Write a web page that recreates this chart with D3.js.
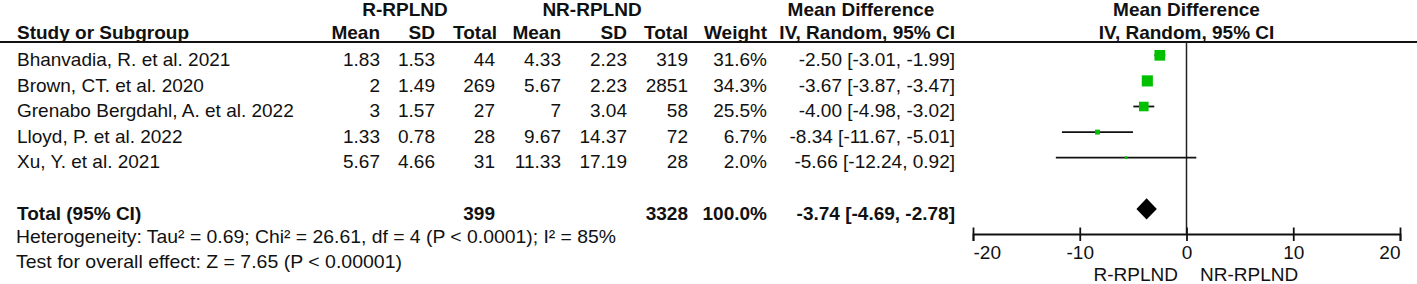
<!DOCTYPE html>
<html>
<head>
<meta charset="utf-8">
<script src="https://cdn.jsdelivr.net/npm/d3@7"></script>
<style>
  html, body { margin: 0; padding: 0; background: #fff; }
  svg { display: block; }
  text { font-family: "Liberation Sans", Arial, sans-serif; fill: #111; }
</style>
</head>
<body>
<svg id="chart" width="1417" height="284"></svg>
<script>
// ---- data ----
const studies = ["Bhanvadia, R. et al. 2021", "Brown, CT. et al. 2020", "Grenabo Bergdahl, A. et al. 2022", "Lloyd, P. et al. 2022", "Xu, Y. et al. 2021"];
const rMean = [1.83, 2, 3, 1.33, 5.67];
const rSD = [1.53, 1.49, 1.57, 0.78, 4.66];
const rTotal = [44, 269, 27, 28, 31];
const nrMean = [4.33, 5.67, 7, 9.67, 11.33];
const nrSD = [2.23, 2.23, 3.04, 14.37, 17.19];
const nrTotal = [319, 2851, 58, 72, 28];
const weights = [31.6, 34.3, 25.5, 6.7, 2.0];
const md = [-2.50, -3.67, -4.00, -8.34, -5.66];
const ciLow = [-3.01, -3.87, -4.98, -11.67, -12.24];
const ciHigh = [-1.99, -3.47, -3.02, -5.01, 0.92];
const totalLabel = "Total (95% CI)";
const totalR = 399, totalNR = 3328, totalWeight = 100.0;
const totalMD = -3.74, totalLow = -4.69, totalHigh = -2.78;
const footnotes = [
  "Heterogeneity: Tau² = 0.69; Chi² = 26.61, df = 4 (P < 0.0001); I² = 85%",
  "Test for overall effect: Z = 7.65 (P < 0.00001)"
];
const groupHeaders = ["R-RPLND", "NR-RPLND"];
const colHeaders = ["Study or Subgroup", "Mean", "SD", "Total", "Mean", "SD", "Total", "Weight", "IV, Random, 95% CI"];
const axisTicks = [-20, -10, 0, 10, 20];
const favourLabels = ["R-RPLND", "NR-RPLND"];

// ---- layout ----
const svg = d3.select("#chart");
const FS = 19;
const f2 = v => v.toFixed(2);
const ciText = (m, lo, hi) => `${f2(m)} [${f2(lo)}, ${f2(hi)}]`;

const rowY = d3.scaleLinear().domain([0, 1]).range([66, 91.6]); // baseline by row index
const x = d3.scaleLinear().domain([-20, 20]).range([973, 1400]);
const size = d3.scaleSqrt().domain([0, 33]).range([0, 10.9]);

// column right edges (text-anchor end) for numeric columns
const colRight = [380, 435, 495, 561, 627, 688, 767, 955];

function txt(g, xx, yy, s, anchor, bold) {
  return g.append("text").attr("x", xx).attr("y", yy)
    .attr("text-anchor", anchor || "start")
    .attr("font-size", FS)
    .attr("font-weight", bold ? "bold" : "normal")
    .text(s);
}

const g = svg.append("g");

// header row 1
const h1 = 16;
txt(g, 405, h1, groupHeaders[0], "middle", true);
txt(g, 592, h1, groupHeaders[1], "middle", true);
txt(g, 861, h1, "Mean Difference", "middle", true);
txt(g, x(0), h1, "Mean Difference", "middle", true);

// header row 2
txt(g, 17, 39, colHeaders[0], "start", true);
colHeaders.slice(1).forEach((h, i) => txt(g, colRight[i] + (i === 2 ? 2 : 0), 39, h, "end", true));
txt(g, x(0), 39, colHeaders[8], "middle", true);

// header line
g.append("line").attr("x1", 0).attr("x2", 1417).attr("y1", 42).attr("y2", 42)
  .attr("stroke", "#111").attr("stroke-width", 2);

// data rows
studies.forEach((s, i) => {
  const y = rowY(i);
  txt(g, 17, y, s, "start");
  const vals = [rMean[i], rSD[i], rTotal[i], nrMean[i], nrSD[i], nrTotal[i],
    weights[i].toFixed(1) + "%", ciText(md[i], ciLow[i], ciHigh[i])];
  vals.forEach((v, j) => txt(g, colRight[j], y, String(v), "end"));
});

// total row
const yT = rowY(6);
txt(g, 17, yT, totalLabel, "start", true);
txt(g, colRight[2], yT, String(totalR), "end", true);
txt(g, colRight[5], yT, String(totalNR), "end", true);
txt(g, colRight[6], yT, totalWeight.toFixed(1) + "%", "end", true);
txt(g, colRight[7], yT, ciText(totalMD, totalLow, totalHigh), "end", true);

// footnotes
g.append("text").attr("x", 16).attr("y", 243).attr("font-size", FS)
  .attr("textLength", 600).attr("lengthAdjust", "spacingAndGlyphs").text(footnotes[0]);
g.append("text").attr("x", 16).attr("y", 268).attr("font-size", FS)
  .attr("textLength", 386).attr("lengthAdjust", "spacingAndGlyphs").text(footnotes[1]);

// ---- forest plot ----
const axisY = 234;
const plot = svg.append("g");

// zero line
plot.append("line").attr("x1", x(0)).attr("x2", x(0)).attr("y1", 42).attr("y2", axisY)
  .attr("stroke", "#222").attr("stroke-width", 1.5);

// CI lines and squares
studies.forEach((s, i) => {
  const cy = rowY(i) - 10.7;
  plot.append("line").attr("x1", x(ciLow[i])).attr("x2", x(ciHigh[i]))
    .attr("y1", cy).attr("y2", cy).attr("stroke", "#111").attr("stroke-width", 1.8);
  const sz = size(weights[i]);
  plot.append("rect").attr("x", x(md[i]) - sz / 2).attr("y", cy - sz / 2)
    .attr("width", sz).attr("height", sz).attr("fill", "#00c000");
});

// diamond
const dy = yT - 10.7, dh = 10.7;
plot.append("path")
  .attr("d", `M${x(totalLow)},${dy} L${x(totalMD)},${dy - dh} L${x(totalHigh)},${dy} L${x(totalMD)},${dy + dh} Z`)
  .attr("fill", "#000");

// axis
const axis = d3.axisBottom(x).tickValues(axisTicks).tickSizeOuter(0).tickSize(7)
  .tickFormat(d => String(d));
const ax = plot.append("g").attr("transform", `translate(0,${axisY})`).call(axis);
ax.select(".domain").attr("stroke", "#111").attr("stroke-width", 1.8);
ax.selectAll(".tick line").attr("y1", -6.5).attr("y2", 7).attr("stroke", "#111").attr("stroke-width", 1.8);
ax.selectAll(".tick text")
  .attr("font-size", FS).attr("font-family", "'Liberation Sans', Arial, sans-serif")
  .attr("fill", "#111").attr("y", 25).attr("dy", 0)
  .attr("text-anchor", (d, i) => i === 0 ? "start" : (i === axisTicks.length - 1 ? "end" : "middle"));

// favour labels
txt(plot, x(0) - 8.5, 281, favourLabels[0], "end");
txt(plot, x(0) + 13.5, 281, favourLabels[1], "start");
</script>
</body>
</html>
